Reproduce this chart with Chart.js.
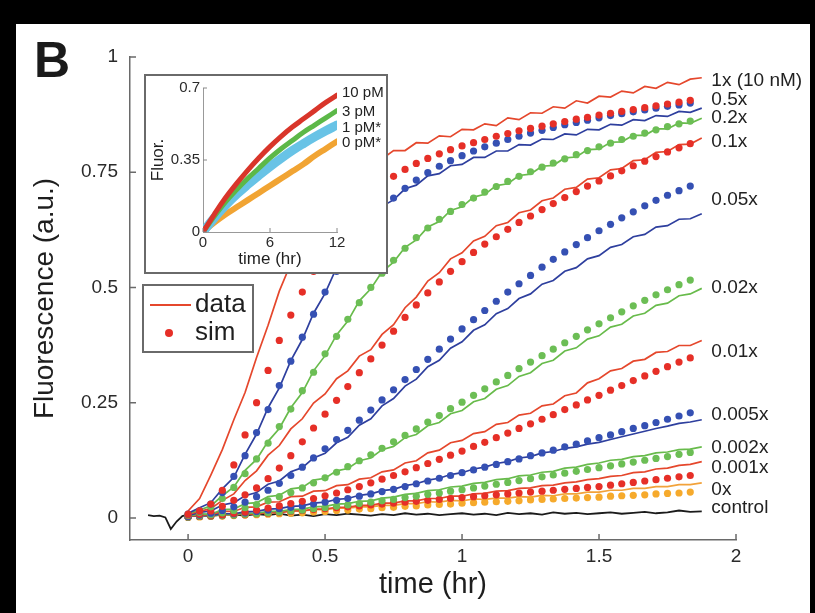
<!DOCTYPE html>
<html>
<head>
<meta charset="utf-8">
<script src="https://cdn.jsdelivr.net/npm/chart.js@4.4.1/dist/chart.umd.min.js"></script>
<style>
  html, body { margin: 0; background: #000; }
  #panel { position: absolute; left: 16px; top: 24px; width: 794px; height: 589px; background: #fff; }
  #main { position: absolute; left: 0; top: 0; }
  #insetBox { position: absolute; left: 144px; top: 74px; width: 244px; height: 200px; box-sizing: border-box; border: 2px solid #6a6a6a; background: #fff; }
  #inset { display: block; }
</style>
</head>
<body>
<div id="panel"></div>
<canvas id="main" width="815" height="613"></canvas>
<div id="insetBox"><canvas id="inset" width="240" height="196"></canvas></div>
<script>
// sample times (hr)
const simTime = [0,0.042,0.083,0.125,0.167,0.208,0.25,0.292,0.333,0.375,0.417,0.458,0.5,0.542,0.583,0.625,0.667,0.708,0.75,0.792,0.833,0.875,0.917,0.958,1,1.042,1.083,1.125,1.167,1.208,1.25,1.292,1.333,1.375,1.417,1.458,1.5,1.542,1.583,1.625,1.667,1.708,1.75,1.792,1.833];
const dataTime = simTime.concat([1.875]);
const ctrlTime = [-0.146,-0.125,-0.104,-0.083,-0.063,-0.042,-0.021].concat(dataTime);

// measured traces
const data1x = [0.015,0.042,0.093,0.148,0.213,0.272,0.348,0.418,0.492,0.552,0.612,0.652,0.692,0.712,0.743,0.752,0.773,0.779,0.797,0.797,0.814,0.813,0.829,0.827,0.843,0.842,0.855,0.851,0.868,0.864,0.879,0.878,0.892,0.889,0.905,0.9,0.915,0.913,0.926,0.922,0.936,0.932,0.945,0.94,0.952,0.955];
const data05x = [0.01,0.022,0.033,0.063,0.088,0.138,0.182,0.239,0.282,0.341,0.387,0.444,0.487,0.543,0.577,0.619,0.642,0.676,0.69,0.714,0.722,0.742,0.747,0.764,0.767,0.782,0.782,0.796,0.796,0.81,0.809,0.822,0.821,0.833,0.831,0.843,0.842,0.854,0.852,0.864,0.862,0.873,0.871,0.882,0.88,0.889];
const data02x = [0.01,0.017,0.026,0.048,0.067,0.103,0.127,0.166,0.194,0.239,0.272,0.319,0.352,0.397,0.427,0.471,0.497,0.534,0.555,0.587,0.603,0.631,0.643,0.667,0.675,0.696,0.702,0.721,0.725,0.743,0.746,0.763,0.765,0.781,0.783,0.799,0.8,0.815,0.816,0.83,0.83,0.844,0.844,0.857,0.856,0.867];
const data01x = [0.008,0.014,0.02,0.038,0.052,0.081,0.102,0.136,0.157,0.193,0.215,0.249,0.269,0.302,0.319,0.351,0.365,0.398,0.419,0.456,0.479,0.514,0.532,0.562,0.575,0.601,0.611,0.634,0.641,0.662,0.668,0.688,0.694,0.713,0.717,0.735,0.738,0.755,0.758,0.775,0.777,0.793,0.795,0.81,0.811,0.824];
const data005x = [0.005,0.012,0.015,0.028,0.033,0.048,0.055,0.073,0.08,0.1,0.109,0.13,0.14,0.163,0.175,0.201,0.215,0.243,0.259,0.286,0.301,0.328,0.342,0.368,0.382,0.407,0.419,0.443,0.454,0.476,0.486,0.507,0.515,0.535,0.543,0.562,0.569,0.587,0.593,0.61,0.615,0.631,0.634,0.648,0.649,0.66];
const data002x = [0.004,0.008,0.008,0.018,0.019,0.031,0.033,0.046,0.049,0.063,0.066,0.082,0.086,0.102,0.107,0.124,0.13,0.148,0.155,0.174,0.181,0.2,0.207,0.226,0.233,0.252,0.259,0.279,0.287,0.307,0.315,0.335,0.342,0.362,0.369,0.388,0.395,0.414,0.42,0.438,0.444,0.461,0.466,0.482,0.486,0.498];
const data001x = [0.003,0.006,0.007,0.014,0.014,0.023,0.024,0.034,0.035,0.046,0.047,0.058,0.059,0.07,0.072,0.084,0.087,0.1,0.104,0.119,0.124,0.141,0.147,0.163,0.168,0.183,0.187,0.203,0.207,0.223,0.227,0.243,0.247,0.265,0.271,0.293,0.302,0.319,0.324,0.34,0.344,0.359,0.361,0.374,0.374,0.385];
const data0005x = [0.003,0.005,0.005,0.009,0.009,0.013,0.014,0.019,0.02,0.025,0.026,0.032,0.034,0.04,0.042,0.049,0.052,0.059,0.062,0.07,0.074,0.082,0.086,0.094,0.098,0.106,0.11,0.118,0.122,0.13,0.133,0.141,0.144,0.151,0.154,0.16,0.164,0.17,0.176,0.182,0.188,0.194,0.199,0.205,0.208,0.213];
const data0002x = [0.003,0.005,0.004,0.007,0.007,0.01,0.01,0.014,0.014,0.018,0.019,0.024,0.025,0.03,0.031,0.036,0.037,0.043,0.045,0.051,0.053,0.059,0.061,0.067,0.069,0.075,0.077,0.083,0.085,0.091,0.093,0.099,0.101,0.108,0.11,0.116,0.119,0.125,0.127,0.133,0.135,0.141,0.143,0.148,0.149,0.154];
const data0001x = [0.003,0.005,0.004,0.007,0.006,0.009,0.008,0.012,0.011,0.015,0.015,0.019,0.019,0.023,0.023,0.027,0.027,0.032,0.032,0.037,0.037,0.042,0.042,0.047,0.047,0.052,0.053,0.058,0.059,0.064,0.065,0.07,0.071,0.076,0.078,0.083,0.085,0.09,0.092,0.098,0.1,0.106,0.108,0.114,0.116,0.122];
const data0x = [0.004,0.006,0.005,0.008,0.007,0.01,0.009,0.012,0.012,0.015,0.015,0.018,0.018,0.021,0.021,0.024,0.024,0.027,0.027,0.031,0.031,0.035,0.034,0.038,0.037,0.041,0.04,0.043,0.043,0.046,0.045,0.049,0.048,0.052,0.052,0.056,0.056,0.06,0.06,0.064,0.064,0.068,0.068,0.072,0.072,0.076];
const dataControl = [0.006,0.004,0.005,0.001,-0.024,-0.008,0.004,0.007,0.008,0.006,0.009,0.007,0.005,0.008,0.006,0.009,0.005,0.007,0.004,0.008,0.006,0.009,0.007,0.005,0.008,0.006,0.01,0.007,0.009,0.006,0.008,0.01,0.007,0.009,0.006,0.011,0.008,0.01,0.007,0.012,0.009,0.011,0.008,0.01,0.012,0.009,0.011,0.013,0.01,0.012,0.016,0.013,0.014];

// simulated traces
const sim1x = [0.008,0.015,0.03,0.06,0.115,0.18,0.25,0.32,0.385,0.44,0.49,0.535,0.575,0.61,0.645,0.675,0.7,0.722,0.741,0.756,0.769,0.78,0.79,0.799,0.807,0.814,0.821,0.828,0.834,0.84,0.845,0.85,0.855,0.86,0.865,0.869,0.874,0.878,0.882,0.886,0.89,0.894,0.898,0.902,0.906];
const sim05x = [0.008,0.015,0.03,0.055,0.09,0.135,0.185,0.235,0.287,0.34,0.392,0.442,0.49,0.535,0.575,0.61,0.642,0.67,0.694,0.715,0.733,0.749,0.763,0.775,0.786,0.796,0.805,0.813,0.821,0.828,0.835,0.841,0.847,0.853,0.858,0.863,0.868,0.873,0.877,0.881,0.885,0.889,0.893,0.896,0.9];
const sim02x = [0.006,0.012,0.024,0.042,0.066,0.096,0.128,0.162,0.198,0.236,0.276,0.316,0.356,0.394,0.431,0.467,0.5,0.531,0.559,0.585,0.608,0.629,0.648,0.665,0.68,0.694,0.707,0.719,0.73,0.741,0.751,0.761,0.77,0.779,0.788,0.797,0.805,0.813,0.821,0.828,0.835,0.842,0.849,0.855,0.861];
const sim01x = [0.005,0.008,0.015,0.025,0.038,0.05,0.065,0.085,0.108,0.135,0.165,0.195,0.225,0.255,0.285,0.315,0.345,0.375,0.405,0.435,0.462,0.488,0.512,0.535,0.556,0.576,0.594,0.61,0.626,0.641,0.655,0.669,0.682,0.695,0.708,0.72,0.731,0.742,0.753,0.764,0.774,0.784,0.794,0.803,0.812];
const sim005x = [0.003,0.006,0.01,0.016,0.024,0.034,0.046,0.06,0.075,0.092,0.11,0.13,0.15,0.17,0.19,0.212,0.234,0.256,0.278,0.3,0.322,0.344,0.366,0.388,0.41,0.43,0.45,0.47,0.49,0.508,0.526,0.544,0.561,0.577,0.593,0.608,0.623,0.637,0.651,0.664,0.677,0.689,0.7,0.71,0.72];
const sim002x = [0.002,0.004,0.007,0.011,0.016,0.022,0.029,0.037,0.046,0.055,0.065,0.076,0.087,0.099,0.111,0.124,0.137,0.151,0.165,0.179,0.193,0.208,0.222,0.237,0.251,0.266,0.28,0.295,0.309,0.324,0.338,0.352,0.366,0.38,0.394,0.408,0.421,0.434,0.447,0.46,0.472,0.484,0.495,0.506,0.516];
const sim001x = [0.002,0.003,0.005,0.007,0.01,0.013,0.017,0.021,0.026,0.031,0.036,0.042,0.048,0.054,0.061,0.068,0.076,0.084,0.092,0.1,0.109,0.118,0.127,0.136,0.145,0.155,0.164,0.174,0.184,0.194,0.204,0.214,0.224,0.235,0.245,0.256,0.266,0.277,0.287,0.298,0.308,0.318,0.328,0.338,0.347];
const sim0005x = [0.002,0.003,0.005,0.007,0.009,0.011,0.014,0.017,0.02,0.023,0.026,0.03,0.034,0.038,0.042,0.047,0.052,0.057,0.062,0.068,0.074,0.08,0.086,0.092,0.098,0.104,0.11,0.116,0.122,0.128,0.135,0.141,0.147,0.154,0.16,0.167,0.174,0.18,0.187,0.194,0.2,0.207,0.214,0.221,0.228];
const sim0002x = [0.002,0.003,0.004,0.005,0.006,0.008,0.009,0.011,0.013,0.015,0.017,0.02,0.022,0.025,0.028,0.031,0.034,0.037,0.04,0.044,0.047,0.051,0.054,0.058,0.061,0.065,0.069,0.073,0.077,0.081,0.085,0.089,0.093,0.097,0.101,0.105,0.109,0.113,0.117,0.121,0.125,0.129,0.133,0.138,0.142];
const sim0001x = [0.002,0.003,0.004,0.005,0.006,0.007,0.009,0.01,0.012,0.014,0.016,0.018,0.02,0.022,0.024,0.026,0.028,0.03,0.032,0.034,0.036,0.038,0.04,0.042,0.044,0.046,0.048,0.05,0.052,0.054,0.056,0.058,0.06,0.062,0.064,0.066,0.068,0.071,0.074,0.077,0.08,0.083,0.086,0.089,0.092];
const sim0x = [0.001,0.002,0.003,0.004,0.005,0.006,0.007,0.008,0.009,0.01,0.011,0.013,0.014,0.016,0.017,0.019,0.02,0.022,0.023,0.025,0.026,0.028,0.029,0.03,0.032,0.033,0.034,0.035,0.036,0.037,0.039,0.04,0.041,0.042,0.043,0.044,0.045,0.047,0.048,0.049,0.05,0.052,0.053,0.054,0.056];

// series names printed at the right end, and the level each one sits at
const seriesNames = ['1x (10 nM)','0.5x','0.2x','0.1x','0.05x','0.02x','0.01x','0.005x','0.002x','0.001x','0x','control'];
const labelLevels = [0.949,0.908,0.869,0.815,0.69,0.5,0.36,0.223,0.153,0.108,0.061,0.021];
const labelTime = 1.91;

const xTicks = [0, 0.5, 1, 1.5, 2];
const yTicks = [0, 0.25, 0.5, 0.75, 1];

// inset: longer runs at low concentration
const insetTime = [0,1,2,3,4,5,6,7,8,9,10,11,12];
const ins10pM = [0,0.085,0.165,0.235,0.3,0.36,0.415,0.465,0.51,0.55,0.59,0.63,0.665];
const ins3pM = [0,0.075,0.145,0.205,0.26,0.31,0.36,0.405,0.445,0.485,0.52,0.555,0.59];
const ins1pM = [0,0.068,0.128,0.182,0.23,0.275,0.318,0.358,0.396,0.43,0.462,0.492,0.52];
const ins0pM = [0,0.045,0.085,0.12,0.155,0.19,0.225,0.26,0.295,0.33,0.37,0.405,0.44];
const insetNames = ['10 pM','3 pM','1 pM*','0 pM*'];
const insetLevels = [0.675,0.583,0.505,0.432];
const insetXTicks = [0, 6, 12];
const insetYTicks = [0, 0.35, 0.7];

const RED_LINE = '#e5472c', RED_DOT = '#e62f27';
const BLUE_LINE = '#2e3f9e', BLUE_DOT = '#3550b3';
const GREEN_LINE = '#68bb4b', GREEN_DOT = '#6cbe55';
const ORANGE_LINE = '#f2a23a', ORANGE_DOT = '#f6aa2c';

const FONT = "'Liberation Sans', Arial, Helvetica, sans-serif";
Chart.defaults.font.family = FONT;
Chart.defaults.color = '#2a2a2a';

const pts = (t, v) => t.map((x, i) => ({ x, y: v[i] }));

const dataSeries = [data1x, data05x, data02x, data01x, data005x, data002x, data001x, data0005x, data0002x, data0001x, data0x];
const simSeries = [sim1x, sim05x, sim02x, sim01x, sim005x, sim002x, sim001x, sim0005x, sim0002x, sim0001x, sim0x];
const lineColors = [RED_LINE, BLUE_LINE, GREEN_LINE, RED_LINE, BLUE_LINE, GREEN_LINE, RED_LINE, BLUE_LINE, GREEN_LINE, RED_LINE, ORANGE_LINE];
const dotColors = [RED_DOT, BLUE_DOT, GREEN_DOT, RED_DOT, BLUE_DOT, GREEN_DOT, RED_DOT, BLUE_DOT, GREEN_DOT, RED_DOT, ORANGE_DOT];

const datasets = [];
simSeries.forEach((s, i) => datasets.push({
  label: 'sim ' + seriesNames[i], data: pts(simTime, s), showLine: false,
  pointRadius: 3.6, pointBorderWidth: 0, pointBackgroundColor: dotColors[i], borderColor: dotColors[i]
}));
dataSeries.forEach((s, i) => datasets.push({
  label: 'data ' + seriesNames[i], data: pts(dataTime, s), showLine: true, borderColor: lineColors[i],
  borderWidth: 1.7, pointRadius: 0, tension: 0
}));
datasets.push({ label: 'control', data: pts(ctrlTime, dataControl), showLine: true, borderColor: '#1b1b1b', borderWidth: 1.8, pointRadius: 0, tension: 0 });

// tick marks pointing into the plot
const inwardTicks = {
  id: 'inwardTicks',
  afterDraw(chart, args, opts) {
    const { ctx, chartArea: a, scales: { x, y } } = chart;
    ctx.save();
    ctx.strokeStyle = opts.color;
    ctx.lineWidth = opts.width;
    ctx.beginPath();
    x.ticks.forEach(t => { const px = x.getPixelForValue(t.value); ctx.moveTo(px, a.bottom); ctx.lineTo(px, a.bottom - opts.length); });
    y.ticks.forEach(t => { const py = y.getPixelForValue(t.value); ctx.moveTo(a.left, py); ctx.lineTo(a.left + opts.length, py); });
    ctx.stroke();
    ctx.restore();
  }
};

// panel letter, data/sim key and the series names
const mainDecor = {
  id: 'mainDecor',
  afterDraw(chart) {
    const { ctx, scales: { x, y } } = chart;
    ctx.save();
    ctx.fillStyle = '#1a1a1a';
    ctx.font = `bold 50px ${FONT}`;
    ctx.textBaseline = 'alphabetic';
    ctx.fillText('B', 34, 77);

    ctx.font = `19px ${FONT}`;
    ctx.fillStyle = '#222';
    ctx.textBaseline = 'middle';
    const lx = x.getPixelForValue(labelTime);
    seriesNames.forEach((n, i) => ctx.fillText(n, lx, y.getPixelForValue(labelLevels[i])));

    // key box
    ctx.fillStyle = '#fff';
    ctx.fillRect(143, 285, 110, 67);
    ctx.strokeStyle = '#6a6a6a';
    ctx.lineWidth = 2;
    ctx.strokeRect(143, 285, 110, 67);
    ctx.strokeStyle = RED_LINE;
    ctx.lineWidth = 2;
    ctx.beginPath(); ctx.moveTo(150, 305); ctx.lineTo(191, 305); ctx.stroke();
    ctx.fillStyle = RED_DOT;
    ctx.beginPath(); ctx.arc(169, 333, 4, 0, Math.PI * 2); ctx.fill();
    ctx.fillStyle = '#1e1e1e';
    ctx.font = `26px ${FONT}`;
    ctx.fillText('data', 195, 305);
    ctx.fillText('sim', 195, 333);
    ctx.restore();
  }
};

new Chart(document.getElementById('main'), {
  type: 'scatter',
  data: { datasets },
  plugins: [inwardTicks, mainDecor],
  options: {
    responsive: false, animation: false, events: [],
    layout: { padding: { left: 0, top: 57, right: 79, bottom: 0 } },
    plugins: { legend: { display: false }, tooltip: { enabled: false }, inwardTicks: { length: 6, color: '#6a6a6a', width: 1.5 } },
    scales: {
      x: {
        type: 'linear', min: -0.212, max: 2,
        afterBuildTicks: s => { s.ticks = xTicks.map(v => ({ value: v })); },
        afterFit: s => { s.height = 73; },
        grid: { display: false, drawTicks: false },
        border: { display: true, color: '#6a6a6a', width: 1.5 },
        ticks: { autoSkip: false, maxRotation: 0, padding: 5, color: '#2a2a2a', font: { size: 19 }, callback: v => String(v) },
        title: { display: true, text: 'time (hr)', color: '#1e1e1e', font: { size: 29 }, padding: { top: 0, bottom: 11 } }
      },
      y: {
        type: 'linear', min: -0.048, max: 1,
        afterBuildTicks: s => { s.ticks = yTicks.map(v => ({ value: v })); },
        afterFit: s => { s.width = 130; },
        grid: { display: false, drawTicks: false },
        border: { display: true, color: '#6a6a6a', width: 1.5 },
        ticks: { autoSkip: false, padding: 12, color: '#2a2a2a', font: { size: 19 }, callback: v => String(v) },
        title: { display: true, text: 'Fluorescence (a.u.)', color: '#1e1e1e', font: { size: 28 }, padding: { top: 28, bottom: 0 } }
      }
    }
  }
});

// concentration names beside the inset curves
const insetDecor = {
  id: 'insetDecor',
  afterDraw(chart) {
    const { ctx, scales: { x, y } } = chart;
    ctx.save();
    ctx.fillStyle = '#222';
    ctx.font = `15px ${FONT}`;
    ctx.textBaseline = 'middle';
    const lx = x.getPixelForValue(12) + 5;
    insetNames.forEach((n, i) => ctx.fillText(n, lx, y.getPixelForValue(insetLevels[i])));
    ctx.restore();
  }
};

const insetStyle = [
  { c: '#d9352a', w: 5 }, { c: '#5cb848', w: 5 }, { c: '#68c3e6', w: 9 }, { c: '#f1a433', w: 6 }
];
new Chart(document.getElementById('inset'), {
  type: 'line',
  data: {
    datasets: [ins10pM, ins3pM, ins1pM, ins0pM].map((s, i) => ({
      label: insetNames[i], data: pts(insetTime, s), borderColor: insetStyle[i].c,
      borderWidth: insetStyle[i].w, pointRadius: 0, tension: 0.4, borderCapStyle: 'round'
    }))
  },
  plugins: [inwardTicks, insetDecor],
  options: {
    responsive: false, animation: false, events: [],
    layout: { padding: { left: 0, top: 12, right: 49, bottom: 0 } },
    plugins: { legend: { display: false }, tooltip: { enabled: false }, inwardTicks: { length: 4, color: '#888', width: 1 } },
    scales: {
      x: {
        type: 'linear', min: 0, max: 12,
        afterBuildTicks: s => { s.ticks = insetXTicks.map(v => ({ value: v })); },
        afterFit: s => { s.height = 40; },
        grid: { display: false, drawTicks: false },
        border: { display: true, color: '#999', width: 1 },
        ticks: { autoSkip: false, maxRotation: 0, padding: 2, color: '#2a2a2a', font: { size: 15 }, callback: v => String(v) },
        title: { display: true, text: 'time (hr)', color: '#1e1e1e', font: { size: 17 }, padding: { top: 0, bottom: 2 } }
      },
      y: {
        type: 'linear', min: 0, max: 0.7,
        afterBuildTicks: s => { s.ticks = insetYTicks.map(v => ({ value: v })); },
        afterFit: s => { s.width = 57; },
        grid: { display: false, drawTicks: false },
        border: { display: true, color: '#999', width: 1 },
        ticks: { autoSkip: false, padding: 3, color: '#2a2a2a', font: { size: 15 }, callback: v => String(v) },
        title: { display: true, text: 'Fluor.', color: '#1e1e1e', font: { size: 17 }, padding: { top: 2, bottom: 0 } }
      }
    }
  }
});
</script>
</body>
</html>
